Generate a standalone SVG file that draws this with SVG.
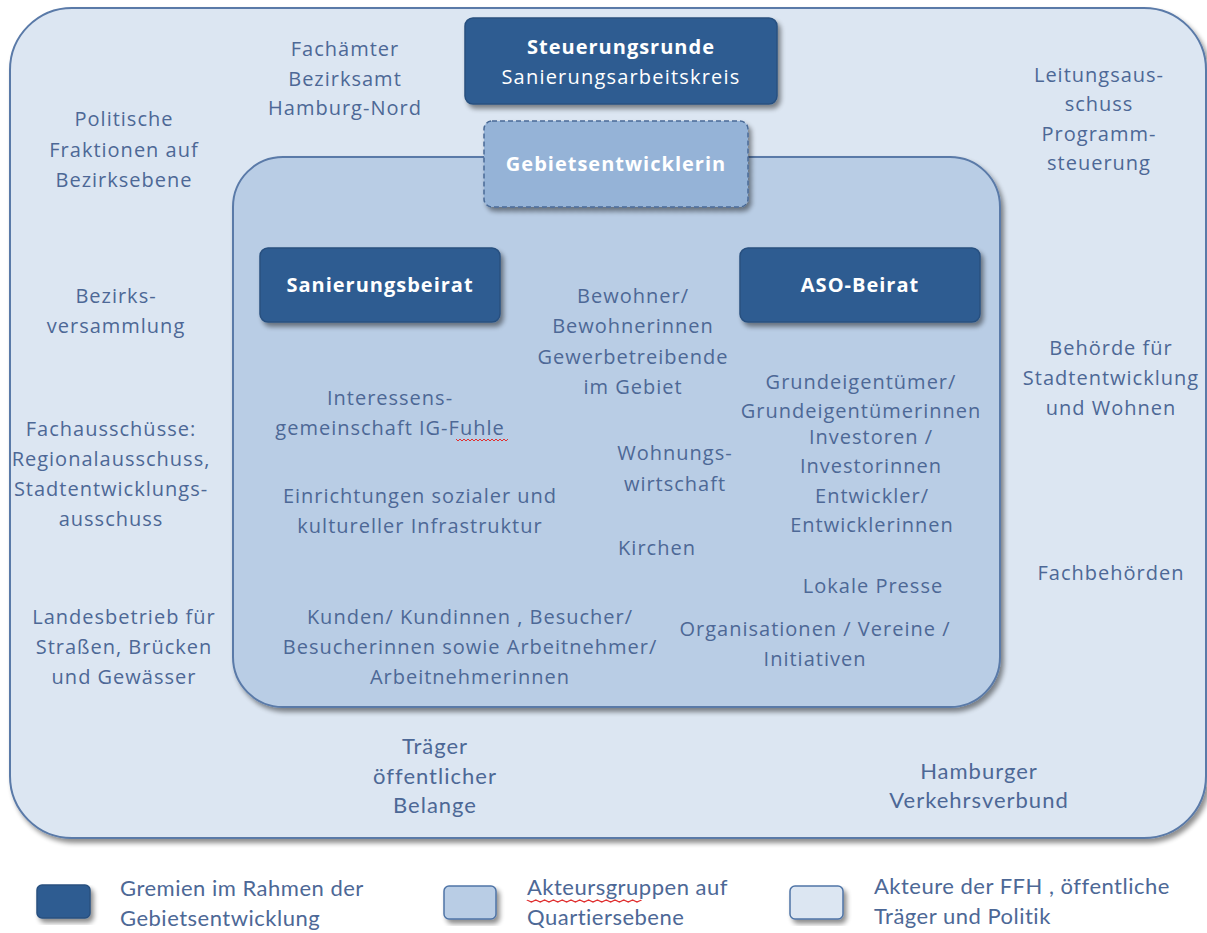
<svg xmlns="http://www.w3.org/2000/svg" width="1207" height="933" viewBox="0 0 1207 933">
<defs>
<filter id="sh" x="-10%" y="-10%" width="130%" height="130%">
<feGaussianBlur in="SourceAlpha" stdDeviation="2.5"/>
<feOffset dx="3" dy="4" result="b"/>
<feComponentTransfer><feFuncA type="linear" slope="0.45"/></feComponentTransfer>
<feMerge><feMergeNode/><feMergeNode in="SourceGraphic"/></feMerge>
</filter>
<path id="wave" d="M0 0 l2 2 l2 -2 l2 2 l2 -2 l2 2 l2 -2 l2 2 l2 -2 l2 2 l2 -2 l2 2 l2 -2 l2 2 l2 -2 l2 2 l2 -2 l2 2 l2 -2 l2 2 l2 -2 l2 2 l2 -2 l2 2 l2 -2 l2 2 l2 -2"/>
</defs>
<style>
.outer{fill:#dce6f2;stroke:#5a7aa8;stroke-width:2}
.inner{fill:#b9cde5;stroke:#5a7aa8;stroke-width:2}
.dark{fill:#2f5b91;stroke:#28507f;stroke-width:1.5}
.mid{fill:#95b3d7;stroke:#4a6a96;stroke-width:1.5;stroke-dasharray:5 3}
.t{font-family:"Open Sans","DejaVu Sans",sans-serif;font-size:20px;letter-spacing:1px;fill:#4d6896;text-anchor:middle}
.n{font-family:Lato,"Open Sans",sans-serif;font-size:22px;letter-spacing:1px;fill:#4d6896;text-anchor:middle}
.l{font-family:Lato,"Open Sans",sans-serif;font-size:22px;letter-spacing:0.5px;fill:#4d6896}
.w{font-family:"Open Sans","DejaVu Sans",sans-serif;font-size:20px;letter-spacing:1.2px;fill:#ffffff;text-anchor:middle}
.wb{font-family:"Open Sans","DejaVu Sans",sans-serif;font-size:20px;letter-spacing:1px;font-weight:bold;fill:#ffffff;text-anchor:middle}
.sq1{fill:#2f5b91;stroke:#28507f;stroke-width:1.5}
.sq2{fill:#b9cde5;stroke:#4f74a6;stroke-width:1.5}
.sq3{fill:#dce6f2;stroke:#4f74a6;stroke-width:1.5}
.wv{fill:none;stroke:#e03030;stroke-width:1}
</style>

<g id="outer-area">
<rect class="outer" x="10" y="8" width="1196" height="830" rx="62" ry="62" filter="url(#sh)"/>
<text class="t" x="345" y="56">Fachämter</text>
<text class="t" x="345" y="86">Bezirksamt</text>
<text class="t" x="345" y="115">Hamburg-Nord</text>
<text class="t" x="124" y="126">Politische</text>
<text class="t" x="124" y="157">Fraktionen auf</text>
<text class="t" x="124" y="187">Bezirksebene</text>
<text class="t" x="1099" y="82">Leitungsaus-</text>
<text class="t" x="1099" y="111">schuss</text>
<text class="t" x="1099" y="141">Programm-</text>
<text class="t" x="1099" y="170">steuerung</text>
<text class="t" x="116" y="303">Bezirks-</text>
<text class="t" x="116" y="333">versammlung</text>
<text class="t" x="1111" y="355">Behörde für</text>
<text class="t" x="1111" y="385">Stadtentwicklung</text>
<text class="t" x="1111" y="415">und Wohnen</text>
<text class="t" x="111" y="436">Fachausschüsse:</text>
<text class="t" x="111" y="466">Regionalausschuss,</text>
<text class="t" x="111" y="496">Stadtentwicklungs-</text>
<text class="t" x="111" y="526">ausschuss</text>
<text class="t" x="1111" y="580">Fachbehörden</text>
<text class="t" x="124" y="624">Landesbetrieb für</text>
<text class="t" x="124" y="654">Straßen, Brücken</text>
<text class="t" x="124" y="684">und Gewässer</text>
<text class="n" x="435" y="754">Träger</text>
<text class="n" x="435" y="784">öffentlicher</text>
<text class="n" x="435" y="813">Belange</text>
<text class="n" x="979" y="779">Hamburger</text>
<text class="n" x="979" y="808">Verkehrsverbund</text>
</g>

<g id="inner-area">
<rect class="inner" x="233" y="157" width="767" height="550" rx="50" ry="50" filter="url(#sh)"/>
<text class="t" x="633" y="303">Bewohner/</text>
<text class="t" x="633" y="333">Bewohnerinnen</text>
<text class="t" x="633" y="364">Gewerbetreibende</text>
<text class="t" x="633" y="394">im Gebiet</text>
<text class="t" x="390" y="405">Interessens-</text>
<text class="t" x="390" y="435">gemeinschaft IG-Fuhle</text>
<use href="#wave" class="wv" x="456" y="439"/>
<text class="t" x="675" y="460">Wohnungs-</text>
<text class="t" x="675" y="491">wirtschaft</text>
<text class="t" x="420" y="503">Einrichtungen sozialer und</text>
<text class="t" x="420" y="533">kultureller Infrastruktur</text>
<text class="t" x="657" y="555">Kirchen</text>
<text class="t" x="861" y="389">Grundeigentümer/</text>
<text class="t" x="861" y="418">Grundeigentümerinnen</text>
<text class="t" x="871" y="444">Investoren /</text>
<text class="t" x="871" y="473">Investorinnen</text>
<text class="t" x="872" y="503">Entwickler/</text>
<text class="t" x="872" y="532">Entwicklerinnen</text>
<text class="t" x="873" y="593">Lokale Presse</text>
<text class="t" x="815" y="636">Organisationen / Vereine /</text>
<text class="t" x="815" y="666">Initiativen</text>
<text class="t" x="470" y="624">Kunden/ Kundinnen , Besucher/</text>
<text class="t" x="470" y="654">Besucherinnen sowie Arbeitnehmer/</text>
<text class="t" x="470" y="684">Arbeitnehmerinnen</text>
</g>

<g id="steuerungsrunde">
<rect class="dark" x="465" y="18" width="312" height="86" rx="8" ry="8" filter="url(#sh)"/>
<text class="wb" x="621" y="54">Steuerungsrunde</text>
<text class="w" x="621" y="84">Sanierungsarbeitskreis</text>
</g>

<g id="gebietsentwicklerin">
<rect class="mid" x="484" y="121" width="264" height="86" rx="8" ry="8" filter="url(#sh)"/>
<text class="wb" x="616" y="171">Gebietsentwicklerin</text>
</g>

<g id="sanierungsbeirat">
<rect class="dark" x="260" y="248" width="240" height="74" rx="8" ry="8" filter="url(#sh)"/>
<text class="wb" x="380" y="292">Sanierungsbeirat</text>
</g>

<g id="aso-beirat">
<rect class="dark" x="740" y="248" width="240" height="74" rx="8" ry="8" filter="url(#sh)"/>
<text class="wb" x="860" y="292">ASO-Beirat</text>
</g>

<g id="connectors"></g>

<g id="legend">
<rect class="sq1" x="37" y="885" width="53" height="33" rx="5" ry="5" filter="url(#sh)"/>
<text class="l" x="120" y="896">Gremien im Rahmen der</text>
<text class="l" x="120" y="926">Gebietsentwicklung</text>
<rect class="sq2" x="444" y="886" width="52" height="33" rx="5" ry="5" filter="url(#sh)"/>
<text class="l" x="527" y="895">Akteursgruppen auf</text>
<use href="#wave" class="wv" transform="translate(527 900) scale(2.2 1)"/>
<text class="l" x="527" y="925">Quartiersebene</text>
<rect class="sq3" x="790" y="886" width="53" height="33" rx="5" ry="5" filter="url(#sh)"/>
<text class="l" x="874" y="894">Akteure der FFH , öffentliche</text>
<text class="l" x="874" y="924">Träger und Politik</text>
</g>
</svg>
